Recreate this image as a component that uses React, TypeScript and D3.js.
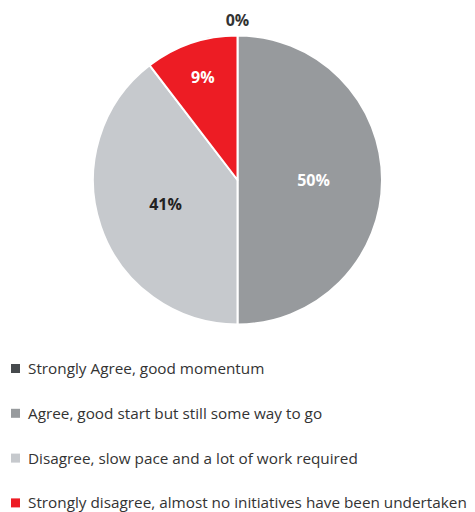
import React from "react";
import * as d3 from "d3";

const categories = [
  "Strongly Agree, good momentum",
  "Agree, good start but still some way to go",
  "Disagree, slow pace and a lot of work required",
  "Strongly disagree, almost no initiatives have been undertaken",
];
// slice shares as drawn in the picture
const shares = [0, 50, 39.6, 10.4];
const labels = ["0%", "50%", "41%", "9%"];
const colors = ["#464a4d", "#979a9d", "#c6c9cd", "#ed1c24"];
const labelColors = ["#333333", "#ffffff", "#222222", "#ffffff"];
const labelRadii = [160, 76, 76, 108];

export default function App() {
  const W = 475, H = 512;
  const cx = 237.5, cy = 180, r = 144.5;
  const pie = d3.pie<number>().sort(null).value((d) => d)(shares);
  const arc = d3.arc<d3.PieArcDatum<number>>().innerRadius(0).outerRadius(r);
  const font = "'Open Sans', sans-serif";
  return (
    <svg width={W} height={H} style={{ position: "absolute", left: 0, top: 0 }}>
      <rect width={W} height={H} fill="#fff" />
      <g transform={`translate(${cx},${cy})`}>
        {pie.map((p, i) =>
          p.endAngle - p.startAngle > 0 ? (
            <path key={i} d={arc(p) || ""} fill={colors[i]} stroke="#fff" strokeWidth={2} strokeLinejoin="round" />
          ) : null
        )}
        {pie.map((p, i) => {
          const a = (p.startAngle + p.endAngle) / 2;
          const lr = labelRadii[i];
          const x = Math.sin(a) * lr;
          const y = -Math.cos(a) * lr;
          return (
            <text key={"l" + i} x={x} y={y} dy="0.35em" textAnchor="middle" fontFamily={font}
              fontWeight={700} fontSize={16} fill={labelColors[i]}>
              {labels[i]}
            </text>
          );
        })}
      </g>
      {categories.map((c, i) => {
        const y = 368.5 + i * 44.8;
        return (
          <g key={"lg" + i}>
            <rect x={11} y={y - 4.5} width={9} height={9} fill={colors[i]} />
            <text x={28} y={y + 5.5} fontFamily={font} fontSize={15.3} fill="#333333">
              {c}
            </text>
          </g>
        );
      })}
    </svg>
  );
}
